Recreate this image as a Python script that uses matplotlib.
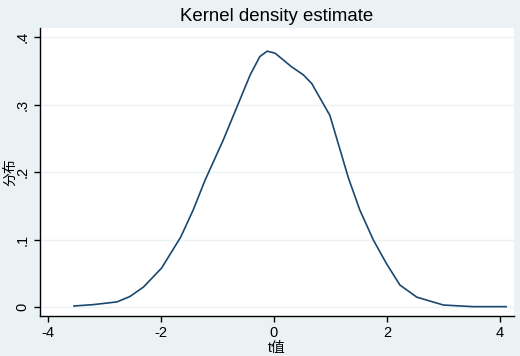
import matplotlib
matplotlib.use('Agg')
import matplotlib.pyplot as plt

plt.rcParams['font.family'] = ['Liberation Sans', 'Noto Sans CJK SC', 'DejaVu Sans']

# kernel density curve
t_values = [-3.54, -3.2, -2.78, -2.55, -2.31, -1.99, -1.65, -1.43, -1.22, -0.90,
            -0.42, -0.25, -0.12, 0.02, 0.31, 0.52, 0.67, 0.99, 1.32, 1.52,
            1.76, 1.99, 2.23, 2.53, 3.0, 3.53, 4.11]
density = [0.002, 0.004, 0.008, 0.016, 0.030, 0.058, 0.104, 0.144, 0.188, 0.247,
           0.344, 0.371, 0.379, 0.376, 0.356, 0.344, 0.331, 0.284, 0.191, 0.144,
           0.0996, 0.065, 0.033, 0.015, 0.0034, 0.001, 0.001]

x_ticks = [-4, -2, 0, 2, 4]
y_ticks = [0, 0.1, 0.2, 0.3, 0.4]
y_tick_labels = ['0', '.1', '.2', '.3', '.4']

bg = '#eaf2f3'
fig = plt.figure(figsize=(5.2, 3.56), dpi=100, facecolor=bg)
ax = fig.add_axes([0.076, 0.1124, 0.9125, 0.809])
ax.set_facecolor('white')

ax.plot(t_values, density, color='#1a476f', linewidth=1.2)

ax.set_xlim(-4.15, 4.25)
ax.set_ylim(-0.0128, 0.4133)
ax.set_xticks(x_ticks)
ax.set_xticklabels([str(v) for v in x_ticks])
ax.set_yticks(y_ticks)
ax.set_yticklabels(y_tick_labels, rotation=90, va='center')
ax.grid(axis='y', color=bg, linewidth=1)
ax.set_axisbelow(True)

for side in ['top', 'right']:
    ax.spines[side].set_visible(False)
for side in ['left', 'bottom']:
    ax.spines[side].set_color('black')
    ax.spines[side].set_linewidth(1)
ax.tick_params(direction='out', length=4, width=1, labelsize=10.5, pad=3)

ax.set_xlabel('t值', fontsize=10, labelpad=1)
ax.set_ylabel('分布', fontsize=10)
ax.yaxis.set_label_coords(-0.047, 0.5)
ax.set_title('Kernel density estimate', fontsize=13.4, pad=5)

fig.savefig('out.png', dpi=100, facecolor=bg)
